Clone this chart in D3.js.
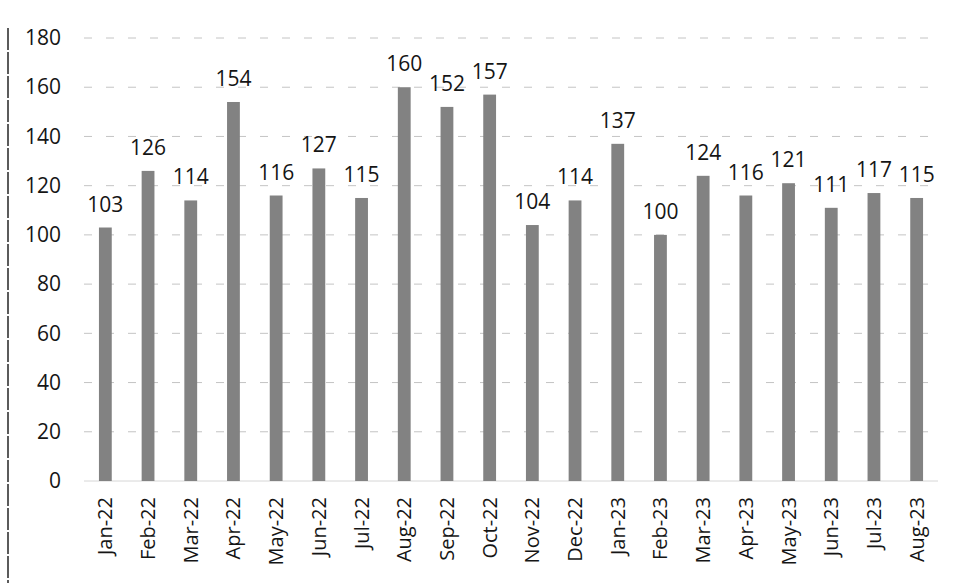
<!DOCTYPE html>
<html>
<head>
<meta charset="utf-8">
<script src="https://cdn.jsdelivr.net/npm/d3@7"></script>
<style>
  html, body { margin: 0; padding: 0; background: #fff; }
  svg { display: block; }
  text { font-family: "Open Sans", "Noto Sans", sans-serif; fill: #151515; }
</style>
</head>
<body>
<svg id="chart" width="961" height="583"></svg>
<script>
// Monthly counts, Jan 2022 – Aug 2023
const months = ["Jan-22","Feb-22","Mar-22","Apr-22","May-22","Jun-22","Jul-22","Aug-22","Sep-22","Oct-22",
                "Nov-22","Dec-22","Jan-23","Feb-23","Mar-23","Apr-23","May-23","Jun-23","Jul-23","Aug-23"];
const counts = [103,126,114,154,116,127,115,160,152,157,104,114,137,100,124,116,121,111,117,115];
const yTicks = [0,20,40,60,80,100,120,140,160,180];

const svg = d3.select("#chart");
const margin = { top: 38, right: 23, bottom: 102, left: 84 };
const width = 961, height = 583;

const x = d3.scaleBand()
  .domain(months)
  .range([margin.left, width - margin.right])
  .paddingInner(0.7)
  .paddingOuter(0.35);

const y = d3.scaleLinear()
  .domain([0, 180])
  .range([height - margin.bottom, margin.top]);

// frame line on the left
svg.append("line")
  .attr("x1", 8).attr("x2", 8)
  .attr("y1", 28).attr("y2", height)
  .attr("stroke", "#333").attr("stroke-width", 1.6)
  .attr("stroke-dasharray", "22 2");

// horizontal gridlines
svg.append("g")
  .selectAll("line")
  .data(yTicks.filter(d => d > 0))
  .join("line")
  .attr("x1", margin.left).attr("x2", width - margin.right)
  .attr("y1", d => y(d)).attr("y2", d => y(d))
  .attr("stroke", "#c4c4c4").attr("stroke-width", 1)
  .attr("stroke-dasharray", "8 14");

// y axis labels
const yAxis = d3.axisLeft(y).tickValues(yTicks).tickSize(0).tickPadding(23);
svg.append("g")
  .attr("transform", `translate(${margin.left},0)`)
  .call(yAxis)
  .call(g => g.select(".domain").remove())
  .selectAll("text")
  .style("font-size", "21px")
  .style("font-family", "'Open Sans', sans-serif")
  .attr("fill", "#151515");

// baseline
svg.append("line")
  .attr("x1", margin.left).attr("x2", width - margin.right)
  .attr("y1", y(0)).attr("y2", y(0))
  .attr("stroke", "#d6d6d6").attr("stroke-width", 1);

// x axis labels, rotated
const xAxis = d3.axisBottom(x).tickSize(0).tickPadding(0);
svg.append("g")
  .attr("transform", `translate(0,${y(0)})`)
  .call(xAxis)
  .call(g => g.select(".domain").remove())
  .selectAll("text")
  .attr("transform", "rotate(-90)")
  .attr("text-anchor", "end")
  .attr("x", -16)
  .attr("y", 0)
  .attr("dy", "0.35em")
  .style("font-size", "20px")
  .style("font-family", "'Open Sans', sans-serif")
  .attr("fill", "#151515");

// bars
svg.append("g")
  .selectAll("rect")
  .data(counts)
  .join("rect")
  .attr("x", (d, i) => x(months[i]))
  .attr("y", d => y(d))
  .attr("width", x.bandwidth())
  .attr("height", d => y(0) - y(d))
  .attr("fill", "#828282");

// value labels
svg.append("g")
  .selectAll("text")
  .data(counts)
  .join("text")
  .attr("x", (d, i) => x(months[i]) + x.bandwidth() / 2)
  .attr("y", d => y(d) - 16)
  .attr("text-anchor", "middle")
  .style("font-size", "21px")
  .text(d => d);
</script>
</body>
</html>
